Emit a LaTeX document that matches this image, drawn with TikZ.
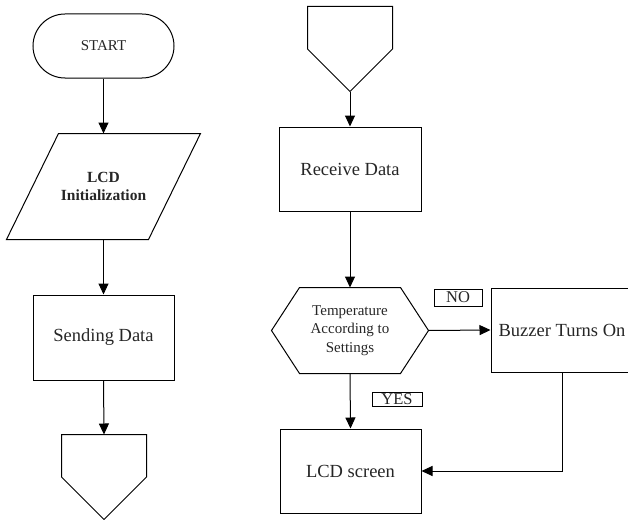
\documentclass[tikz,border=0pt]{standalone}
\usepackage{fontspec}
\setmainfont{Liberation Serif}
\usetikzlibrary{arrows.meta}
\begin{document}
\begin{tikzpicture}[x=1pt,y=-1pt,
  line width=1pt,
  every node/.style={inner sep=0pt, text=black!85, align=center},
  boxtext/.style={font=\fontsize{18.5}{22}\selectfont},
  procbox/.style={boxtext, draw, minimum width=141pt, minimum height=85pt},
  ghost/.style={minimum width=#1},
  flow/.style={-{Triangle[length=11pt,width=10pt]}},
  tagbox/.style={draw, line width=0.8pt, font=\fontsize{16.5}{18}\selectfont}
]
\useasboundingbox (0,0) rectangle (628,519);
\clip (0,0) rectangle (628,519);

% left column
\node[draw, rounded corners=32pt, minimum width=141pt, minimum height=64pt,
      font=\fontsize{15}{18}\selectfont] (start) at (103.5,46) {START};

\node[minimum width=141pt, minimum height=105pt,
      font=\bfseries\fontsize{15.5}{18}\selectfont] (lcdinit) at (103.5,186.5) {LCD\\Initialization};
\draw ([xshift=26pt]lcdinit.north west) -- ([xshift=26pt]lcdinit.north east)
   -- ([xshift=-26pt]lcdinit.south east) -- ([xshift=-26pt]lcdinit.south west) -- cycle;

\node[procbox] (send) at (103.5,337.5) {Sending Data};

\node[minimum width=84pt, minimum height=84pt] (offL) at (104,477) {};
\draw (offL.north west) -- (offL.north east) -- (offL.east) -- (offL.south) -- (offL.west) -- cycle;

% right column
\node[minimum width=84pt, minimum height=84pt] (offR) at (350,49) {};
\draw (offR.north west) -- (offR.north east) -- (offR.east) -- (offR.south) -- (offR.west) -- cycle;

\node[procbox, minimum width=142pt, minimum height=84pt] (recv) at (350,169) {Receive Data};

\node[minimum width=156pt, minimum height=85pt,
      font=\fontsize{15}{18.5}\selectfont] (temp) at (350,330.5) {Temperature\\According to\\Settings};
\draw ([xshift=28pt]temp.north west) -- ([xshift=-28pt]temp.north east) -- (temp.east)
   -- ([xshift=-28pt]temp.south east) -- ([xshift=28pt]temp.south west) -- (temp.west) -- cycle;

\node[procbox, minimum width=142pt, minimum height=84pt] (buzz) at (562,330) {Buzzer Turns On};

\node[procbox, minimum width=141pt, minimum height=84pt] (lcdscr) at (350.5,471) {LCD screen};

\node[tagbox, minimum width=48pt, minimum height=17pt] (no) at (458,297.5) {NO};
\node[tagbox, minimum width=50pt, minimum height=14pt] (yes) at (397,399) {YES};

% connectors
\draw[flow] (start.south) -- (lcdinit.north);
\draw[flow] (lcdinit.south) -- (send.north);
\draw[flow] (send.south) -- (offL.north);
\draw[flow] (offR.south) -- (recv.north);
\draw[flow] (recv.south) -- (temp.north);
\draw[flow] (temp.east) -- (buzz.west);
\draw[flow] (temp.south) -- (lcdscr.north);
\draw[flow] (buzz.south) |- (lcdscr.east);
\end{tikzpicture}
\end{document}
